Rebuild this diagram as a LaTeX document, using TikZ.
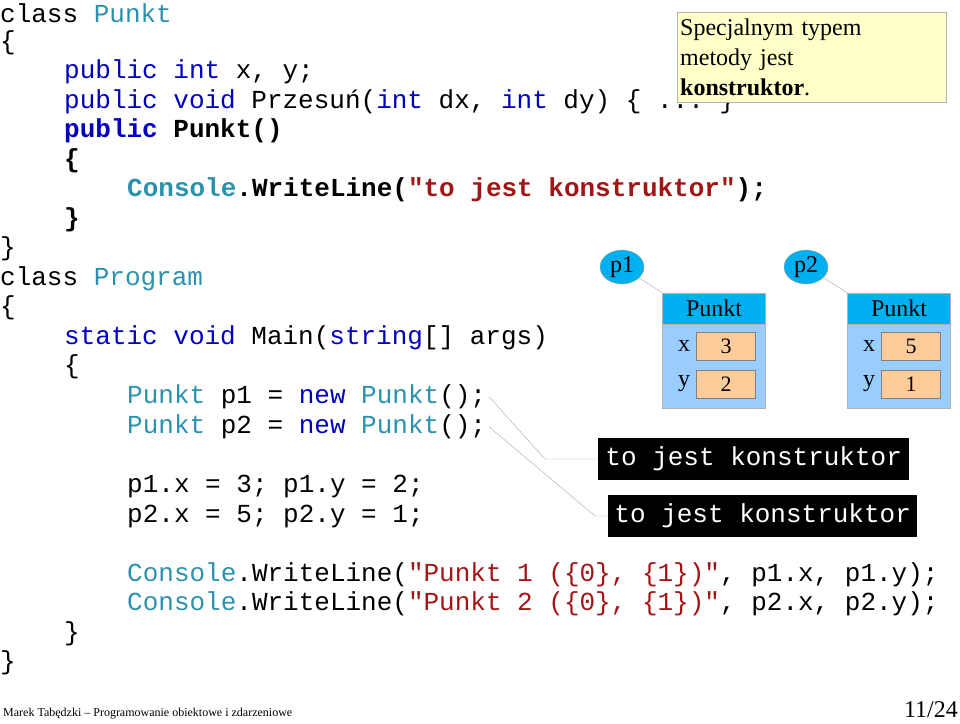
\documentclass[tikz,border=0pt]{standalone}
\usepackage{fontspec}
\setmainfont{Liberation Serif}
\setmonofont{Liberation Mono}
\usetikzlibrary{positioning,shapes.geometric}
\definecolor{kw}{RGB}{0,0,190}
\definecolor{ty}{RGB}{43,145,175}
\definecolor{str}{RGB}{163,21,21}
\definecolor{note}{RGB}{255,255,200}
\definecolor{head}{RGB}{0,176,240}
\definecolor{body}{RGB}{153,204,255}
\definecolor{val}{RGB}{255,204,153}
\newcommand{\kw}[1]{\textcolor{kw}{#1}}
\newcommand{\ty}[1]{\textcolor{ty}{#1}}
\newcommand{\str}[1]{\textcolor{str}{#1}}
\tikzset{
  code/.style={anchor=west, inner sep=0pt, font=\ttfamily\fontsize{26}{29}\selectfont},
  refnode/.style={ellipse, draw=gray!70, fill=head, minimum width=44pt, minimum height=34pt, inner sep=0pt, font=\fontsize{24}{26}\selectfont},
  valbox/.style={draw=gray, fill=val, minimum width=59pt, minimum height=28pt, inner sep=0pt, font=\fontsize{22}{24}\selectfont},
  outbox/.style={fill=black, text=white, inner sep=0pt, minimum height=42pt, font=\ttfamily\fontsize{26}{29}\selectfont},
  link/.style={draw=gray!70, thin}
}
\begin{document}
\begin{tikzpicture}[x=1pt,y=-1pt]
    \useasboundingbox (0,0) rectangle (960,723);
    % class Punkt
    \node[code] (l0) at (0,13) {class \ty{Punkt}};
    \node[code] at (0,43) {\{};
    \node[code] at (64,72) {\kw{public} \kw{int} x, y;};
    \node[code] at (64,102) {\kw{public} \kw{void} Przesuń(\kw{int} dx, \kw{int} dy) \{ ... \}};
    \node[code] at (64,131) {\bfseries\kw{public} Punkt()};
    \node[code] at (64,161) {\bfseries\{};
    \node[code] at (127,190) {\bfseries\ty{Console}.WriteLine(\str{"to jest konstruktor"});};
    \node[code] at (64,220) {\bfseries\}};
    \node[code] at (0,249) {\}};
    % class Program
    \node[code] at (0,279) {class \ty{Program}};
    \node[code] at (0,308) {\{};
    \node[code] at (64,338) {\kw{static} \kw{void} Main(\kw{string}[] args)};
    \node[code] at (64,367) {\{};
    \node[code] (new1) at (127,397) {\ty{Punkt} p1 = \kw{new} \ty{Punkt}();};
    \node[code] (new2) at (127,427) {\ty{Punkt} p2 = \kw{new} \ty{Punkt}();};
    \node[code] at (127,486) {p1.x = 3; p1.y = 2;};
    \node[code] at (127,516) {p2.x = 5; p2.y = 1;};
    \node[code] at (127,575) {\ty{Console}.WriteLine(\str{"Punkt 1 (\{0\}, \{1\})"}, p1.x, p1.y);};
    \node[code] at (127,604) {\ty{Console}.WriteLine(\str{"Punkt 2 (\{0\}, \{1\})"}, p2.x, p2.y);};
    \node[code] at (64,634) {\}};
    \node[code] at (0,663) {\}};

    % note
    \node[draw=gray!60, fill=note, anchor=north west, inner sep=3pt, text width=263pt, minimum height=90pt,
          align=left, font=\fontsize{24}{30}\selectfont] (note) at (677,12)
          {Specjalnym typem\\metody jest\\\textbf{konstruktor}.};

    % objects
    \foreach \nm/\cx/\vx/\vy in {p1/714/3/2, p2/899/5/1} {
      \node[draw=gray!60, fill=body, minimum width=103pt, minimum height=84pt, anchor=north, inner sep=0pt] (\nm body) at (\cx,324) {};
      \node[draw=gray!60, fill=head, minimum width=103pt, minimum height=31pt, anchor=south, inner sep=0pt,
            font=\fontsize{24}{26}\selectfont] (\nm head) at (\nm body.north) {Punkt};
      \node[valbox] (\nm x) at (\cx+12,346) {\vx};
      \node[valbox] (\nm y) at (\cx+12,384) {\vy};
      \node[left=6pt of \nm x, font=\fontsize{24}{26}\selectfont, inner sep=0pt] {x};
      \node[left=6pt of \nm y, font=\fontsize{24}{26}\selectfont, inner sep=0pt] {y};
    }
    \node[refnode] (p1) at (622,267) {p1};
    \node[refnode] (p2) at (806,267) {p2};
    \draw[link] (p1) -- (p1head.north west);
    \draw[link] (p2) -- (p2head.north west);

    % output
    \node[outbox, anchor=west, minimum width=311pt] (out1) at (598,459) {to jest konstruktor};
    \node[outbox, anchor=west, minimum width=309pt] (out2) at (608,516) {to jest konstruktor};
    \coordinate (bend1) at (545,459);
    \coordinate (bend2) at (595,516);
    \draw[link] ([xshift=3pt]new1.east) -- (bend1) -- (out1.west);
    \draw[link] ([xshift=3pt]new2.east) -- (bend2) -- (out2.west);

    % footer
    \node[anchor=west, inner sep=0pt, font=\fontsize{12}{14}\selectfont] (author) at (3,714)
         {Marek Tabędzki – Programowanie obiektowe i zdarzeniowe};
    \node[anchor=east, inner sep=0pt, font=\fontsize{24}{26}\selectfont] (page) at (958,710) {11/24};
\end{tikzpicture}
\end{document}
